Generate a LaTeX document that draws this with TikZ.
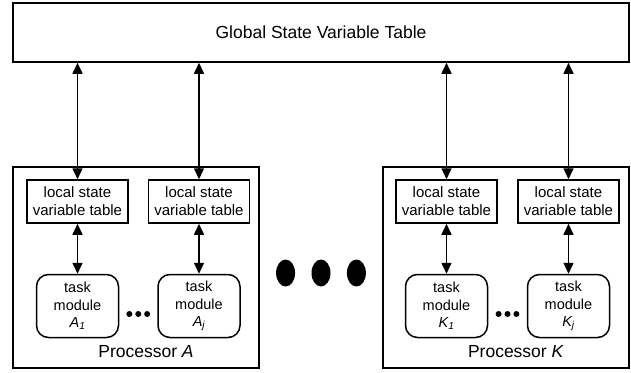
\documentclass[tikz,border=0pt]{standalone}
\usepackage{fontspec}
\setmainfont{Liberation Sans}
\usepackage{tikz}
\usetikzlibrary{shapes,arrows.meta,calc}
\usetikzlibrary{positioning}
\tikzstyle{globalbox} = [rectangle, draw, line width=1.5pt, fill=white,
    text centered, minimum width=616pt, minimum height=59pt,
    font=\fontsize{17.5}{20}\selectfont]
\tikzstyle{procbox} = [rectangle, draw, line width=1.5pt,
    minimum width=246pt, minimum height=201pt]
\tikzstyle{tablebox} = [rectangle, draw, line width=1.5pt, align=center,
    minimum width=101pt, minimum height=43pt, inner sep=0pt,
    font=\fontsize{15}{18}\selectfont]
\tikzstyle{taskbox} = [rectangle, draw, line width=1.5pt, rounded corners=12pt,
    align=center, minimum width=82pt, minimum height=63pt, inner sep=0pt,
    font=\fontsize{14.5}{17.5}\selectfont]
\tikzstyle{proclabel} = [font=\fontsize{17.5}{20}\selectfont]
\tikzstyle{bigdot} = [ellipse, fill=black, minimum width=19pt, minimum height=27pt, inner sep=0pt]
\tikzstyle{smalldot} = [circle, fill=black, minimum size=6pt, inner sep=0pt]
\tikzstyle{arrow} = [line width=1.5pt, {Triangle[width=10pt,length=11pt]}-{Triangle[width=10pt,length=11pt]}]

\begin{document}
\begin{tikzpicture}[x=1pt, y=-1pt, node distance = 20pt]
    \useasboundingbox (0,0) rectangle (631,372);
    % Place nodes
    \node [globalbox] (gsvt) at (321,32.5) {Global State Variable Table};
    \node [procbox] (procA) at (136,267.5) {};
    \node [procbox] (procK) at (506,267.5) {};
    \node [proclabel] (labA) at (146,352) {Processor \textit{A}};
    \node [proclabel] (labK) at (516,352) {Processor \textit{K}};

    \node [tablebox] (tabA1) at (77.5,201.5) {local state\\variable table};
    \node [tablebox, right=19pt of tabA1] (tabAj) {local state\\variable table};
    \node [tablebox] (tabK1) at (446.5,201.5) {local state\\variable table};
    \node [tablebox, right=19.5pt of tabK1] (tabKj) {local state\\variable table};

    \node [taskbox, below=50pt of tabA1] (modA1) {task\\module\\\textit{A\textsubscript{1}}};
    \node [taskbox, below=50pt of tabAj] (modAj) {task\\module\\\textit{A\textsubscript{j}}};
    \node [taskbox, below=50pt of tabK1] (modK1) {task\\module\\\textit{K\textsubscript{1}}};
    \node [taskbox, below=50pt of tabKj] (modKj) {task\\module\\\textit{K\textsubscript{j}}};

    \node [smalldot] (dA2) at ($(modA1.east)!0.5!(modAj.west)+(0,8)$) {};
    \node [smalldot, left=2.5pt of dA2] (dA1) {};
    \node [smalldot, right=2.5pt of dA2] (dA3) {};
    \node [smalldot] (dK2) at ($(modK1.east)!0.5!(modKj.west)+(0,8)$) {};
    \node [smalldot, left=2.5pt of dK2] (dK1) {};
    \node [smalldot, right=2.5pt of dK2] (dK3) {};

    \node [bigdot] (gap2) at (321,273) {};
    \node [bigdot, left=16pt of gap2] (gap1) {};
    \node [bigdot, right=16pt of gap2] (gap3) {};

    % Draw edges
    \draw [arrow] (gsvt.south -| tabA1) -- (tabA1);
    \draw [arrow] (gsvt.south -| tabAj) -- (tabAj);
    \draw [arrow] (gsvt.south -| tabK1) -- (tabK1);
    \draw [arrow] (gsvt.south -| tabKj) -- (tabKj);
    \draw [arrow] (tabA1) -- (modA1);
    \draw [arrow] (tabAj) -- (modAj);
    \draw [arrow] (tabK1) -- (modK1);
    \draw [arrow] (tabKj) -- (modKj);
\end{tikzpicture}
\end{document}
